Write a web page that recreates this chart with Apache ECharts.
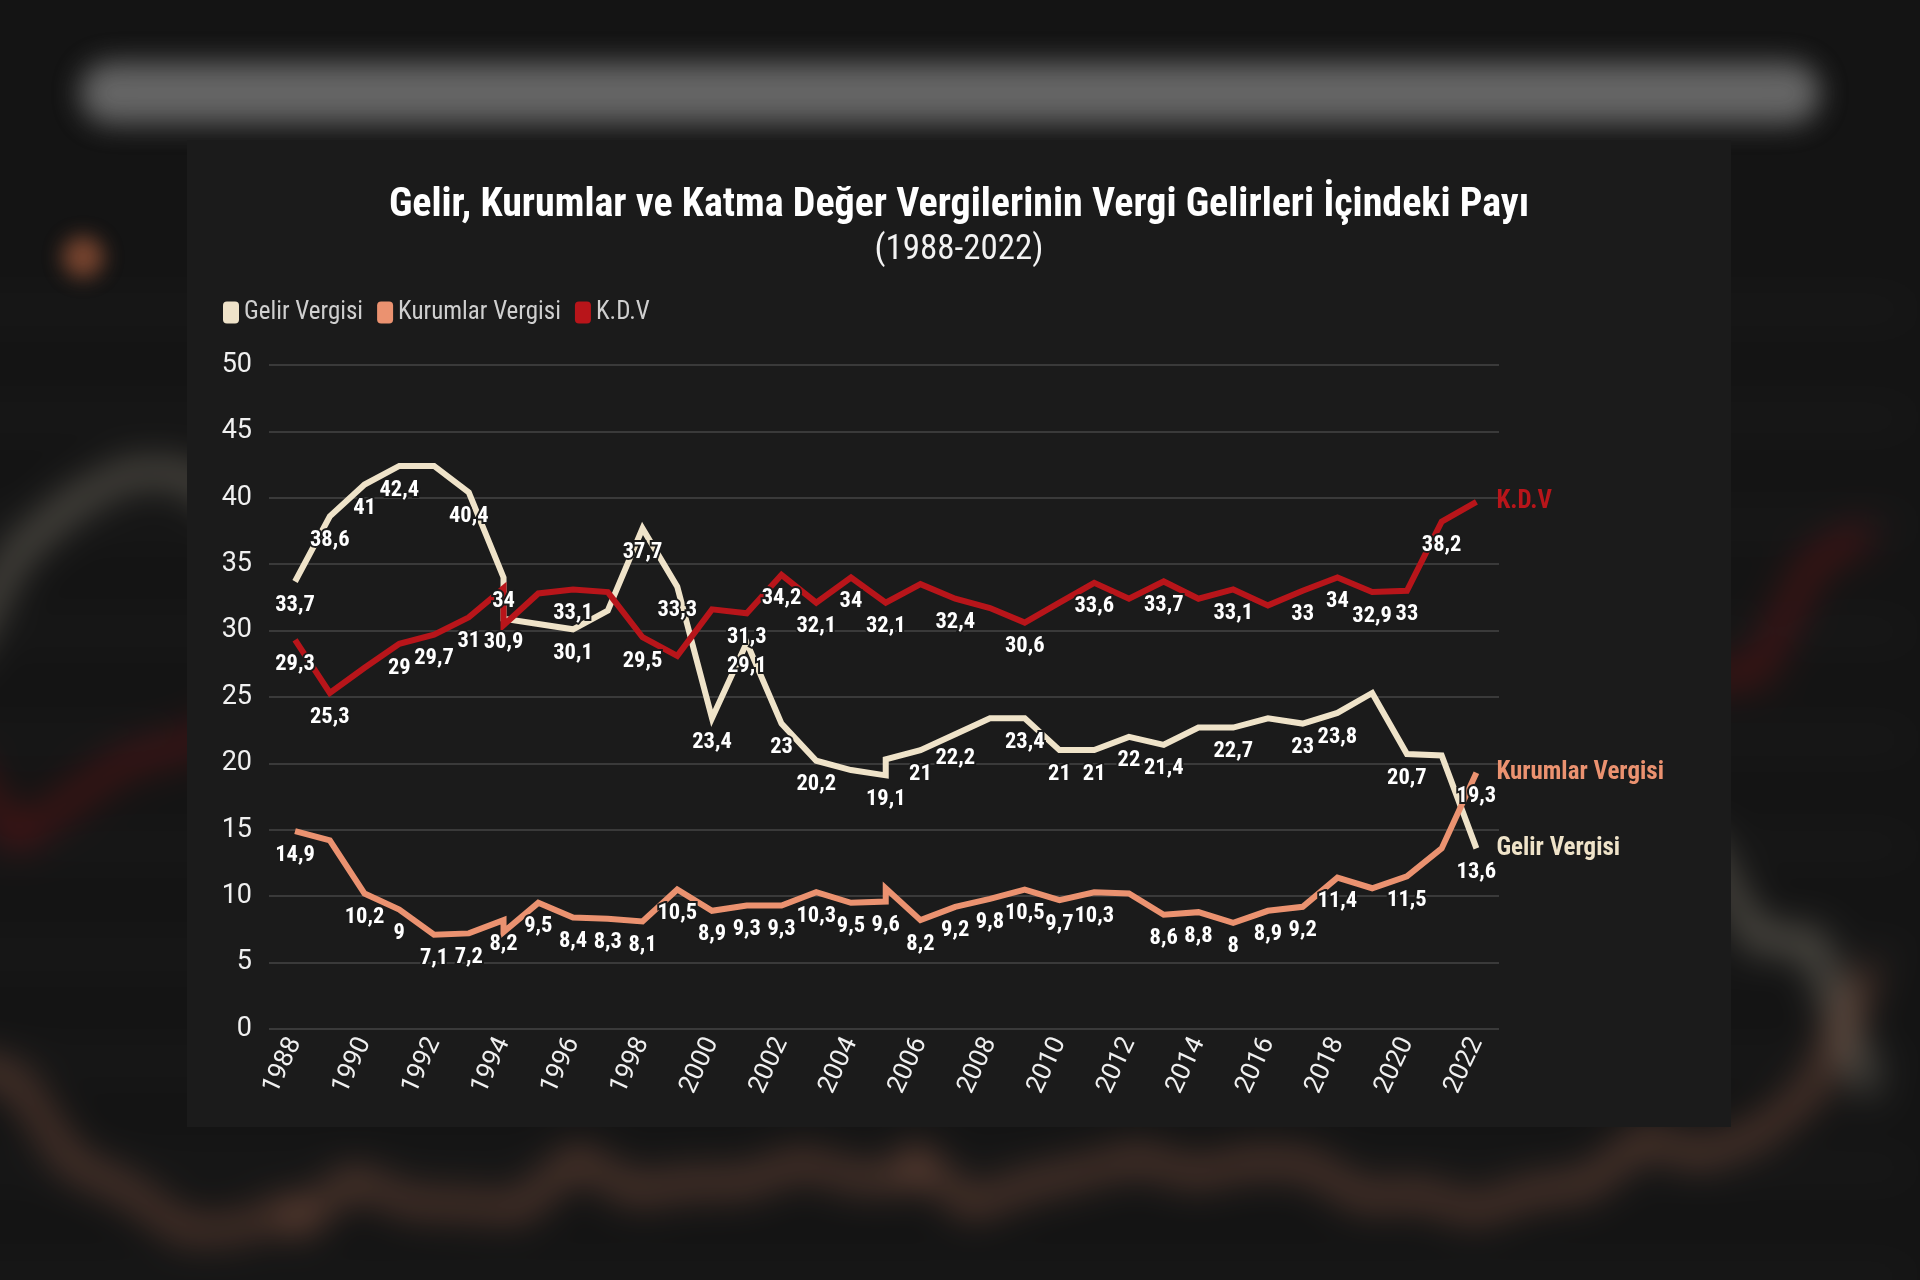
<!DOCTYPE html>
<html><head><meta charset="utf-8">
<script src="https://cdn.jsdelivr.net/npm/echarts@6/dist/echarts.min.js"></script>
<style>
html,body{margin:0;padding:0;width:1920px;height:1280px;overflow:hidden;background:#1c1c1c;}
#bgwrap{position:absolute;left:0;top:0;width:1920px;height:1280px;overflow:hidden;}
#bg{position:absolute;left:187px;top:140px;width:1544px;height:987px;background:#1b1b1b;transform-origin:653px 315px;transform:scale(1.616);filter:blur(12px) brightness(0.75);}
#bar{position:absolute;left:80px;top:62px;width:1740px;height:62px;background:#7a7a7a;border-radius:30px;filter:blur(14px);opacity:0.8;}
#dot{position:absolute;left:62px;top:236px;width:42px;height:42px;background:#a0583a;border-radius:50%;filter:blur(10px);opacity:0.7;}
#panel{position:absolute;left:187px;top:140px;width:1544px;height:987px;background:#1b1b1b;}
</style></head>
<body>
<div id="bgwrap"><div id="bg"></div><div id="bar"></div><div id="dot"></div></div>
<div id="panel"></div>
<script>
// ---- data ----
const years = [1988,1989,1990,1991,1992,1993,1994,1994,1995,1996,1997,1998,1999,2000,2001,2002,2003,2004,2005,2005,2006,2007,2008,2009,2010,2011,2012,2013,2014,2015,2016,2017,2018,2019,2020,2021,2022];
const gelir = [33.7,38.6,41,42.4,42.4,40.4,34,30.9,30.5,30.1,31.5,37.7,33.3,23.4,29.1,23,20.2,19.5,19.1,20.3,21,22.2,23.4,23.4,21,21,22,21.4,22.7,22.7,23.4,23,23.8,25.3,20.7,20.6,13.6];
const kurumlar = [14.9,14.2,10.2,9,7.1,7.2,8.2,7.3,9.5,8.4,8.3,8.1,10.5,8.9,9.3,9.3,10.3,9.5,9.6,10.6,8.2,9.2,9.8,10.5,9.7,10.3,10.2,8.6,8.8,8,8.9,9.2,11.4,10.6,11.5,13.6,19.3];
const kdv = [29.3,25.3,27.2,29,29.7,31,33.2,30.4,32.8,33.1,32.9,29.5,28.1,31.6,31.3,34.2,32.1,34,32.1,32.1,33.5,32.4,31.7,30.6,32.1,33.6,32.4,33.7,32.4,33.1,31.9,33,34,32.9,33,38.2,39.7];
// which points carry a value label (1 = shown)
const gelirLabels    = [1,1,1,1,0,1,1,1,0,1,0,1,1,1,1,1,1,0,1,0,1,1,0,1,1,1,1,1,0,1,0,1,1,0,1,0,1];
const kurumlarLabels = [1,0,1,1,1,1,1,0,1,1,1,1,1,1,1,1,1,1,1,0,1,1,1,1,1,1,0,1,1,1,1,1,1,0,1,0,1];
const kdvLabels      = [1,1,0,1,1,1,0,0,0,1,0,1,0,0,1,1,1,1,1,0,0,1,0,1,0,1,0,1,0,1,0,1,1,1,1,1,0];
const tickYears = [1988,1990,1992,1994,1996,1998,2000,2002,2004,2006,2008,2010,2012,2014,2016,2018,2020,2022];
const seriesNames = ['Gelir Vergisi','Kurumlar Vergisi','K.D.V'];
const titleText = 'Gelir, Kurumlar ve Katma Değer Vergilerinin Vergi Gelirleri İçindeki Payı';
const subtitleText = '(1988-2022)';

// ---- style ----
const FONT = "'Roboto Condensed','DejaVu Sans Condensed','Liberation Sans Narrow',Roboto,sans-serif";
const AXFONT = "Roboto,'Noto Sans',sans-serif";
const COLORS = ['#efe3c9','#eb9270','#b8151a'];
const BG = '#1b1b1b';
const fmt = v => String(v).replace('.', ',');

const valueSets = [gelir, kurumlar, kdv];
const labelSets = [gelirLabels, kurumlarLabels, kdvLabels];

function lineSeries(i, withEnd){
  return {
    name: seriesNames[i], type:'line', symbol:'none', z:2,
    color: COLORS[i], itemStyle:{color:COLORS[i]},
    lineStyle:{width:6, color:COLORS[i], join:'miter', miterLimit:12},
    data: years.map((y,k)=>[y, valueSets[i][k]]),
    endLabel: withEnd ? {show:true, formatter:'{a}', color:COLORS[i], fontFamily:FONT, fontWeight:'bold', fontSize:25, distance:20} : {show:false},
    emphasis:{disabled:true}, silent:true, animation:false
  };
}
function labelSeries(i){
  return {
    name: 'lbl'+i, type:'line', symbol:'circle', symbolSize:1, z:5,
    itemStyle:{color:'rgba(0,0,0,0)'}, lineStyle:{opacity:0},
    data: years.map((y,k)=>({value:[y, valueSets[i][k]], label:{show: !!labelSets[i][k]}})),
    label:{show:false, position:'bottom', distance:12, formatter:p=>fmt(p.value[1]),
      color:'#ffffff', fontFamily:FONT, fontWeight:'bold', fontSize:22.5,
      textBorderColor:BG, textBorderWidth:4},
    emphasis:{disabled:true}, silent:true, animation:false
  };
}

const gridCfg = {left:82, right:232, top:225, bottom:98};
const xAxisCfg = {type:'value', min:1987.25, max:2022.65,
  axisLine:{show:false}, axisTick:{show:false}, splitLine:{show:false},
  axisLabel:{customValues:tickYears, formatter:v=>String(v), rotate:65, margin:10, color:'#f0f0f0', fontSize:26, fontFamily:AXFONT}};
const yAxisCfg = {type:'value', min:0, max:50, interval:5,
  axisLine:{show:false}, axisTick:{show:false},
  splitLine:{lineStyle:{color:'#3a3a3a', width:2}},
  axisLabel:{color:'#f0f0f0', fontSize:27, margin:17, fontFamily:AXFONT}};

const chart = echarts.init(document.getElementById('panel'), null, {renderer:'canvas'});
chart.setOption({
  backgroundColor: BG,
  animation:false,
  title:[
    {text:titleText, left:'center', top:38, textStyle:{color:'#ffffff', fontSize:40, fontWeight:'bold', fontFamily:FONT, lineHeight:46}},
    {text:subtitleText, left:'center', top:85, textStyle:{color:'#f2f2f2', fontSize:35, fontWeight:'normal', fontFamily:FONT, lineHeight:40}}
  ],
  legend:{data:seriesNames, left:31, top:155, icon:'roundRect', itemWidth:16, itemHeight:22, itemGap:14,
    selectedMode:false, textStyle:{color:'#cfcfcf', fontSize:25, fontFamily:FONT}},
  grid:gridCfg, xAxis:xAxisCfg, yAxis:yAxisCfg,
  series:[lineSeries(0,true), lineSeries(1,true), lineSeries(2,true), labelSeries(0), labelSeries(1), labelSeries(2)]
});

// blurred enlarged backdrop (same data, no text)
const bgChart = echarts.init(document.getElementById('bg'), null, {renderer:'canvas'});
bgChart.setOption({
  backgroundColor: BG, animation:false,
  grid:gridCfg,
  xAxis:Object.assign({}, xAxisCfg, {axisLabel:{show:false}}),
  yAxis:Object.assign({}, yAxisCfg, {axisLabel:{show:false}}),
  series:[lineSeries(0,false), lineSeries(1,false), lineSeries(2,false)]
});
</script>
</body></html>
